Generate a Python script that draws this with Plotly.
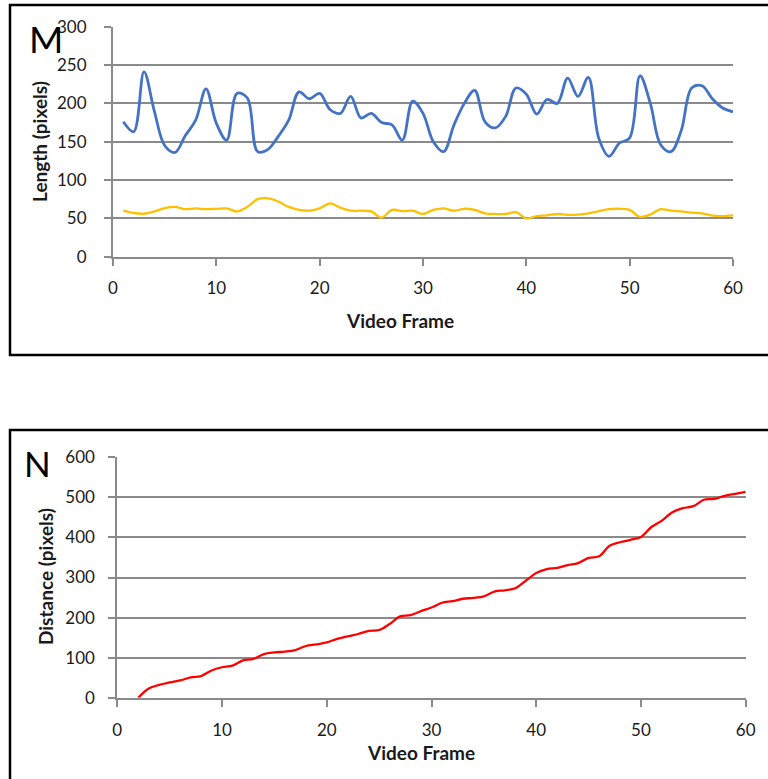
import plotly.graph_objects as go

W, H = 768, 779

frames = list(range(1, 61))
length_blue = [176, 163, 241, 190, 145, 136, 158, 178, 219, 174,
               152, 213, 207, 137, 140, 157, 178, 215, 206, 213,
               192, 187, 209, 181, 187, 175, 172, 152, 203, 187,
               150, 137, 172, 200, 217, 176, 168, 183, 220, 212,
               186, 205, 200, 233, 209, 234, 155, 131, 148, 155,
               236, 200, 146, 137, 165, 220, 223, 206, 194, 189]
length_yellow = [60, 57, 56, 59, 63.5, 65, 62, 63, 62, 62.5,
                 63, 59, 65, 75, 76, 72, 65, 61, 60, 63,
                 69.5, 64, 60, 60, 59, 51, 61, 59.5, 60, 55.7,
                 61, 63, 60, 62.5, 61, 56.6, 55.7, 55.7, 58, 50,
                 53, 54, 55.7, 54.5, 55, 56.6, 59.5, 62, 62.5, 61,
                 52, 55, 62, 60, 59, 57.5, 56.6, 53.5, 53, 54]
dist_frames = list(range(2, 61))
distance_red = [0, 23, 32, 38, 43, 51, 54, 68, 76, 80,
                93, 97, 109, 113, 115, 119, 129, 133, 138, 147,
                153, 159, 167, 169, 184, 203, 206, 216, 225, 237,
                241, 247, 249, 253, 265, 268, 273, 292, 311, 321,
                324, 331, 336, 349, 353, 379, 388, 394, 401, 426,
                442, 463, 473, 478, 494, 496, 504, 509, 514]

x_ticks = [0, 10, 20, 30, 40, 50, 60]
top_y_ticks = [0, 50, 100, 150, 200, 250, 300]
bot_y_ticks = [0, 100, 200, 300, 400, 500, 600]

FONT = "Lato"
GRID = "#8a8a8a"


def px_x(p):
    return p / W


def px_y(p):
    return 1 - p / H


fig = go.Figure()
fig.add_trace(go.Scatter(x=frames, y=length_blue, mode="lines",
                         line=dict(color="#4472C4", width=2.8, shape="spline", smoothing=1),
                         xaxis="x", yaxis="y", showlegend=False))
fig.add_trace(go.Scatter(x=frames, y=length_yellow, mode="lines",
                         line=dict(color="#FFC000", width=2.3, shape="spline", smoothing=1),
                         xaxis="x", yaxis="y", showlegend=False))
fig.add_trace(go.Scatter(x=dist_frames, y=distance_red, mode="lines",
                         line=dict(color="#FF0000", width=2.3, shape="spline", smoothing=1),
                         xaxis="x2", yaxis="y2", showlegend=False))

base = dict(zeroline=False, showline=True, linecolor=GRID, linewidth=2, automargin=False,
            ticks="outside", tickcolor=GRID, tickwidth=2, ticklen=7,
            tickfont=dict(family=FONT, size=17, color="#1a1a1a"), fixedrange=True)

fig.update_layout(
    template="none",
    width=W, height=H, margin=dict(l=0, r=0, t=0, b=0, pad=0),
    paper_bgcolor="white", plot_bgcolor="white",
    xaxis=dict(domain=[px_x(113), px_x(733)], range=[0, 60], tickvals=x_ticks,
               anchor="y", showgrid=False, ticklabelstandoff=8, **base),
    yaxis=dict(domain=[px_y(256.7), px_y(26.7)], range=[0, 300], tickvals=top_y_ticks,
               anchor="x", showgrid=True, gridcolor=GRID, gridwidth=2,
               ticklabelstandoff=14, **base),
    xaxis2=dict(domain=[px_x(117.3), px_x(745.7)], range=[0, 60], tickvals=x_ticks,
                anchor="y2", showgrid=False, ticklabelstandoff=9, **base),
    yaxis2=dict(domain=[px_y(697.7), px_y(457.3)], range=[0, 600], tickvals=bot_y_ticks,
                anchor="x2", showgrid=True, gridcolor=GRID, gridwidth=2,
                ticklabelstandoff=10, **base),
)

title_font = dict(family=FONT, size=19, color="#1a1a1a")
anns = [
    dict(text="<b>Video Frame</b>", x=px_x(400), y=px_y(320)),
    dict(text="<b>Length (pixels)</b>", x=px_x(39), y=px_y(142), textangle=-90),
    dict(text="<b>Video Frame</b>", x=px_x(421), y=px_y(752)),
    dict(text="<b>Distance (pixels)</b>", x=px_x(45), y=px_y(577), textangle=-90),
]
for a in anns:
    fig.add_annotation(xref="paper", yref="paper", showarrow=False, font=title_font,
                       xanchor="center", yanchor="middle", **a)

fig.add_annotation(text="M", xref="paper", yref="paper", x=px_x(46), y=px_y(38), showarrow=False,
                   xanchor="center", yanchor="middle", font=dict(family=FONT, size=37, color="black"))
fig.add_annotation(text="N", xref="paper", yref="paper", x=px_x(37.5), y=px_y(463), showarrow=False,
                   xanchor="center", yanchor="middle", font=dict(family=FONT, size=35, color="black"))

fig.add_shape(type="rect", xref="paper", yref="paper", x0=px_x(10), x1=px_x(790),
              y0=px_y(355), y1=px_y(5), line=dict(color="black", width=2.5))
fig.add_shape(type="rect", xref="paper", yref="paper", x0=px_x(10), x1=px_x(790),
              y0=px_y(800), y1=px_y(430), line=dict(color="black", width=2.5))

fig.write_html("out.html")
